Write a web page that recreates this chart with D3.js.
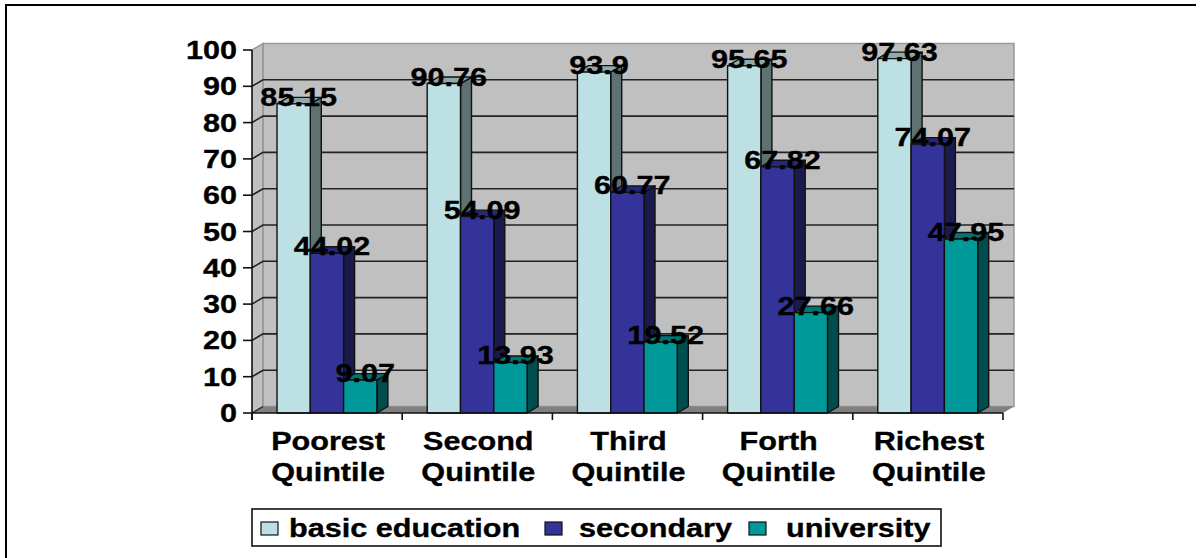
<!DOCTYPE html>
<html><head><meta charset="utf-8">
<script src="https://cdn.jsdelivr.net/npm/d3@7/dist/d3.min.js"></script>
<style>html,body{margin:0;padding:0;background:#fff}svg{display:block}text{font-family:"Liberation Sans",Arial,sans-serif;font-weight:bold;fill:#000;stroke:#000;stroke-width:.35px}</style>
</head><body><svg id="c" width="1200" height="558"></svg>
<script>
const categories = [["Poorest","Quintile"],["Second","Quintile"],["Third","Quintile"],["Forth","Quintile"],["Richest","Quintile"]];
const seriesNames = ["basic education","secondary","university"];
const basicEducation = [85.15,90.76,93.9,95.65,97.63];
const secondary = [44.02,54.09,60.77,67.82,74.07];
const university = [9.07,13.93,19.52,27.66,47.95];
const yTicks = [0,10,20,30,40,50,60,70,80,90,100];
const seriesValues = [basicEducation,secondary,university];
const colors = ["#bce0e3","#333399","#009999"];
const sideColors = ["#5f7272","#1a1a4d","#004d4d"];
const topColors = ["#8eaaac","#26267a","#007373"];

const svg = d3.select("#c");
const FS = 25.5, SX = 1.2;
function label(sel,txt,x,y,anchor,fs){
  return sel.append("text").attr("transform",`translate(${x},${y}) scale(${SX},1)`)
    .attr("text-anchor",anchor||"middle").attr("font-size",fs||FS).text(txt);
}
const x = d3.scaleBand().domain(d3.range(5)).range([252,1003]);
const y = d3.scaleLinear().domain([0,100]).range([413,50]);
const dx = 11, dy = -6.5;

// page frame
svg.append("path").attr("d","M6,558V5H1196").attr("fill","none").attr("stroke","#000").attr("stroke-width",2);

// walls and floor
const L=x.range()[0],R=x.range()[1],b=y(0),t=y(100);
svg.append("path").attr("d",`M${L},${b}L${L+dx},${b+dy}V${t+dy}L${L},${t}Z`).attr("fill","#c0c0c0");
svg.append("rect").attr("x",L+dx).attr("y",t+dy).attr("width",R-L).attr("height",b-t).attr("fill","#c0c0c0").attr("stroke","#999").attr("stroke-width",1.5);
svg.append("path").attr("d",`M${L},${b}L${L+dx},${b+dy}H${R+dx}L${R},${b}Z`).attr("fill","#808080");
svg.append("path").attr("d",`M${L},${t}L${L+dx},${t+dy}V${b+dy}`).attr("fill","none").attr("stroke","#999").attr("stroke-width",1.5);

// gridlines
yTicks.forEach(v=>{
  if(v===100) return;
  const yy=y(v);
  if(v>0) svg.append("path").attr("d",`M${L},${yy}L${L+dx},${yy+dy}H${R+dx}`).attr("fill","none").attr("stroke","#222").attr("stroke-width",1.6);
  else svg.append("path").attr("d",`M${L},${yy}L${L+dx},${yy+dy}`).attr("fill","none").attr("stroke","#222").attr("stroke-width",1.2);
});

// bars
const barW = 33.3, pad = 25;
const barsG = svg.append("g");
categories.forEach((c,i)=>{
  seriesValues.forEach((vals,s)=>{
    const v=vals[i], x0=x(i)+pad+s*barW, x1=x0+barW, yy=y(v), g=barsG.append("g").attr("stroke","#111").attr("stroke-width",1.4).attr("stroke-linejoin","round");
    g.append("path").attr("d",`M${x1},${yy}L${x1+dx},${yy+dy}V${b+dy}L${x1},${b}Z`).attr("fill",sideColors[s]);
    g.append("path").attr("d",`M${x0},${yy}L${x0+dx},${yy+dy}H${x1+dx}L${x1},${yy}Z`).attr("fill",topColors[s]);
    g.append("rect").attr("x",x0).attr("y",yy).attr("width",barW).attr("height",b-yy).attr("fill",colors[s]);
  });
});

// axes
const ax = svg.append("g").attr("stroke","#111").attr("stroke-width",1.6);
ax.append("line").attr("x1",L).attr("x2",L).attr("y1",t).attr("y2",b+7);
ax.append("line").attr("x1",L).attr("x2",R).attr("y1",b).attr("y2",b);
yTicks.forEach(v=>ax.append("line").attr("x1",L-9).attr("x2",L).attr("y1",y(v)).attr("y2",y(v)));
d3.range(6).forEach(i=>{const xx=L+i*x.step();ax.append("line").attr("x1",xx).attr("x2",xx).attr("y1",b).attr("y2",b+7);});

// tick labels
yTicks.forEach(v=>label(svg,v,237,y(v)+9,"end"));

// category labels
categories.forEach((c,i)=>{
  const cx=x(i)+x.bandwidth()/2+1;
  label(svg,c[0],cx,450,"middle");
  label(svg,c[1],cx,481,"middle");
});

// data labels
categories.forEach((c,i)=>{
  seriesValues.forEach((vals,s)=>{
    const cx=x(i)+pad+s*barW+barW/2+5;
    label(svg,vals[i],cx,y(vals[i])+2,"middle");
  });
});

// legend
svg.append("rect").attr("x",252).attr("y",509).attr("width",689).attr("height",37).attr("fill","#fff").attr("stroke","#111").attr("stroke-width",1.6);
const swX=[261,545,749], txX=[289,579,786];
seriesNames.forEach((n,s)=>{
  svg.append("rect").attr("x",swX[s]).attr("y",522).attr("width",17).attr("height",13).attr("fill",colors[s]).attr("stroke","#111").attr("stroke-width",1.2);
  label(svg,n,txX[s],537,"start");
});
</script></body></html>
